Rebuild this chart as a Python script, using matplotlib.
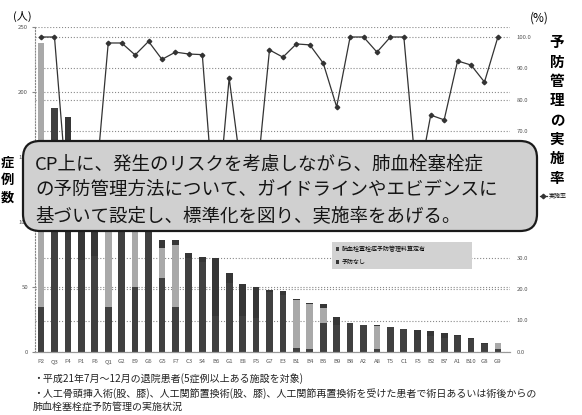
import numpy as np
import matplotlib
matplotlib.use("Agg")
import matplotlib.pyplot as plt
from matplotlib.patches import FancyBboxPatch
from matplotlib.transforms import blended_transform_factory

plt.rcParams['font.family'] = ['Noto Sans CJK JP', 'DejaVu Sans']

# 施設コード
sites = ['P2', 'Q3', 'F4', 'P1', 'F6', 'Q1', 'G2', 'E9', 'G6', 'G5', 'F7', 'C3',
         'S4', 'B6', 'G1', 'E8', 'P5', 'G7', 'E3', 'B1', 'B4', 'B5', 'B9', 'B8',
         'A2', 'A8', 'T5', 'C1', 'F5', 'B2', 'B7', 'A1', 'B10', 'G8', 'G9']

# 症例数の内訳 (人)
santei_ari = [35, 188, 86, 71, 74, 35, 123, 50, 97, 57, 35, 72,
              69, 28, 53, 28, 26, 46, 44, 3, 2, 22, 21, 22,
              21, 2, 19, 18, 9, 12, 11, 12, 10, 6, 2]
santei_nashi = [203, 0, 0, 0, 0, 100, 0, 56, 0, 23, 47, 0,
                0, 0, 0, 0, 0, 0, 0, 37, 35, 12, 0, 0,
                0, 18, 0, 0, 0, 0, 0, 0, 0, 0, 5]
yobou_nashi = [0, 0, 95, 87, 76, 3, 2, 6, 1, 6, 4, 4,
               4, 44, 8, 24, 24, 2, 3, 1, 1, 3, 6, 0,
               0, 1, 0, 0, 8, 4, 4, 1, 1, 1, 0]

# 実施率 (%)
rate = [100.0, 100.0, 47.3, 45.0, 49.5, 98.1, 98.1, 94.3, 98.6, 92.9, 95.2, 94.6,
        94.4, 39.4, 87.0, 54.3, 52.4, 95.9, 93.6, 97.8, 97.5, 91.7, 77.8, 100.0,
        100.0, 95.2, 100.0, 100.0, 52.4, 75.2, 73.7, 92.4, 91.1, 85.7, 100.0]

notes = ['・平成21年7月～12月の退院患者(5症例以上ある施設を対象)',
         '・人工骨頭挿入術(股、膝)、人工関節置換術(股、膝)、人工関節再置換術を受けた患者で術日あるいは術後からの',
         '肺血栓塞栓症予防管理の実施状況']

message = ['CP上に、発生のリスクを考慮しながら、肺血栓塞栓症',
           'の予防管理方法について、ガイドラインやエビデンスに',
           '基づいて設定し、標準化を図り、実施率をあげる。']

W, H = 582, 415
fig = plt.figure(figsize=(W / 100, H / 100), dpi=100)
ax1 = fig.add_axes([35 / W, 1 - 352 / H, (510 - 35) / W, (352 - 27) / H])
ax2 = ax1.twinx()

x = np.arange(len(sites))
ari = np.array(santei_ari)
nashi = np.array(santei_nashi)
b1 = ax1.bar(x, ari, width=0.5, color='#404040', zorder=2,
             label='肺血栓塞栓症予防管理料算定有')
ax1.bar(x, nashi, width=0.5, bottom=ari, color='#a9a9a9', zorder=2)
b3 = ax1.bar(x, yobou_nashi, width=0.5, bottom=ari + nashi, color='#363636',
             zorder=2, label='予防なし')

ax1.set_xlim(-0.45, 34.9)
ax1.set_ylim(0, 250)
ax2.set_ylim(0, 100 * 325 / 315)

grid_kw = dict(ls=':', color='#8a8a8a', lw=0.8)
ax1.set_yticks(range(0, 251, 50))
ax1.yaxis.grid(True, **grid_kw)
ax1.set_axisbelow(True)
# 右軸(%)の目盛線
trans = blended_transform_factory(ax1.transAxes, ax2.transData)
for v in range(10, 101, 10):
    ax1.plot([0, 1], [v, v], transform=trans, zorder=0.5, **grid_kw)

ax1.set_xticks(x, sites)
ax1.tick_params(axis='x', length=0, pad=5, labelsize=4.3, labelcolor='#555555')
ax1.tick_params(axis='y', length=2, pad=3, labelsize=4.3, labelcolor='#555555',
                color='#888888')
ax2.set_yticks(range(0, 101, 10), [f'{v:.1f}' for v in range(0, 101, 10)])
ax2.tick_params(axis='y', length=0, pad=5, labelsize=4.3, labelcolor='#555555')

for ax in (ax1, ax2):
    for side in ('top', 'right', 'left'):
        ax.spines[side].set_visible(False)
    ax.spines['bottom'].set_color('#999999')
ax1.spines['left'].set_visible(True)
ax1.spines['left'].set_linestyle(':')
ax1.spines['left'].set_color('#888888')

line, = ax2.plot(x, rate, color='#333333', lw=0.9, marker='D', ms=2.3,
                 label='実施率', zorder=3)

fig.legend(handles=[b1, b3], loc='lower left',
           bbox_to_anchor=(332 / W, 1 - 269 / H, 140 / W, 0.01), mode='expand',
           fontsize=4.3, frameon=True, facecolor='#d2d2d2', edgecolor='none',
           fancybox=False, framealpha=1, handlelength=0.6, handleheight=0.6,
           handletextpad=0.4, labelspacing=1.4, borderaxespad=0, borderpad=0.6)
fig.legend(handles=[line], loc='center left', bbox_to_anchor=(540 / W, 1 - 196 / H),
           fontsize=4.3, frameon=False, handlelength=1.1, handletextpad=0.3,
           borderaxespad=0, borderpad=0)

# 吹き出し
box = FancyBboxPatch((23 / 100, (H - 231) / 100), (537 - 23) / 100, (231 - 141) / 100,
                     boxstyle='round,pad=0,rounding_size=0.17',
                     transform=fig.dpi_scale_trans, facecolor='#d0d0d0',
                     edgecolor='#1a1a1a', lw=1.6, zorder=6)
fig.add_artist(box)
for i, s in enumerate(message):
    fig.text(35 / W, 1 - (164 + 26 * i) / H, s, fontsize=13.3, color='#151515',
             ha='left', va='center', zorder=7)

fig.text(7 / W, 1 - 180 / H, '症\n例\n数', fontsize=9.5, fontweight='bold',
         ha='center', va='center', linespacing=1.3)
fig.text(557 / W, 1 - 110 / H, '予\n防\n管\n理\nの\n実\n施\n率', fontsize=10.5,
         fontweight='bold', ha='center', va='center', linespacing=1.26)
fig.text(22 / W, 1 - 16 / H, '(人)', fontsize=8, ha='center', va='center')
fig.text(539 / W, 1 - 18 / H, '(%)', fontsize=8.5, ha='center', va='center')

for i, s in enumerate(notes):
    fig.text(33 / W, 1 - (379 + 14.5 * i) / H, s, fontsize=7.2, ha='left',
             va='center', color='#222222')

fig.savefig('out.png', dpi=100)
